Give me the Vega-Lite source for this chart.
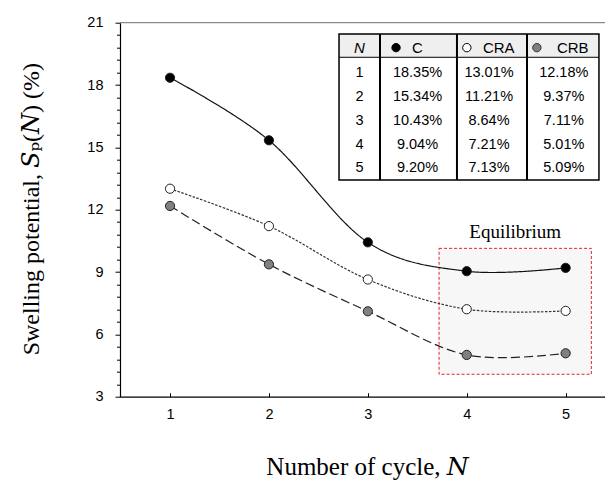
{
  "$schema": "https://vega.github.io/schema/vega-lite/v6.json",
  "width": 485,
  "height": 374,
  "autosize": {"type": "none"},
  "padding": {"left": 120, "top": 22.7, "right": 0, "bottom": 84.3},
  "background": "white",
  "config": {"view": {"stroke": null}, "text": {"font": "Liberation Sans", "color": "#000"}},
  "data": {
    "values": [
      {"N": 1, "series": "C", "value": 18.35},
      {"N": 2, "series": "C", "value": 15.34},
      {"N": 3, "series": "C", "value": 10.43},
      {"N": 4, "series": "C", "value": 9.04},
      {"N": 5, "series": "C", "value": 9.20},
      {"N": 1, "series": "CRA", "value": 13.01},
      {"N": 2, "series": "CRA", "value": 11.21},
      {"N": 3, "series": "CRA", "value": 8.64},
      {"N": 4, "series": "CRA", "value": 7.21},
      {"N": 5, "series": "CRA", "value": 7.13},
      {"N": 1, "series": "CRB", "value": 12.18},
      {"N": 2, "series": "CRB", "value": 9.37},
      {"N": 3, "series": "CRB", "value": 7.11},
      {"N": 4, "series": "CRB", "value": 5.01},
      {"N": 5, "series": "CRB", "value": 5.09}
    ]
  },
  "layer": [
    {
      "layer": [
        {
          "data": {"values": [{}]},
          "mark": {"type": "rect", "fill": "#f7f7f7", "stroke": "#e0262b", "strokeDash": [3, 2], "strokeWidth": 1},
          "encoding": {
            "x": {"datum": 3.72, "type": "quantitative"},
            "x2": {"datum": 5.26},
            "y": {"datum": 4.08, "type": "quantitative"},
            "y2": {"datum": 10.14}
          }
        },
        {
          "data": {"values": [{}]},
          "mark": {"type": "text", "text": "Equilibrium", "font": "Liberation Serif", "fontSize": 19, "color": "#000"},
          "encoding": {
            "x": {"datum": 4.49, "type": "quantitative"},
            "y": {"datum": 10.94, "type": "quantitative"}
          }
        },
        {
          "data": {"values": [{}]},
          "mark": {"type": "rule", "color": "#8a8a8a", "strokeWidth": 1.2},
          "encoding": {"y": {"datum": 21, "type": "quantitative"}}
        },
        {
          "mark": {"type": "line", "interpolate": "cardinal", "strokeWidth": 1.2},
          "encoding": {
            "x": {
              "field": "N",
              "type": "quantitative",
              "scale": {"domain": [0.494, 5.398], "nice": false, "zero": false},
              "axis": {
                "values": [1, 2, 3, 4, 5],
                "tickCount": 10,
                "format": "d",
                "grid": false,
                "title": "Number of cycle, 𝑁",
                "titleFont": "Liberation Serif, DejaVu Serif",
                "titleFontSize": 25,
                "titleFontWeight": "normal",
                "titleColor": "#000",
                "titleX": 247,
                "titleY": 78,
                "titleAlign": "center",
                "titleBaseline": "alphabetic",
                "labelFont": "Liberation Sans",
                "labelFontSize": 14.5,
                "labelColor": "#000",
                "labelPadding": 15,
                "domainColor": "#000",
                "domainWidth": 1.2,
                "tickColor": "#000",
                "tickSize": -4,
                "tickWidth": 1
              }
            },
            "y": {
              "field": "value",
              "type": "quantitative",
              "scale": {"domain": [3, 21], "nice": false, "zero": false},
              "axis": {
                "values": [3, 3.6, 4.2, 4.8, 5.4, 6, 6.6, 7.2, 7.8, 8.4, 9, 9.6, 10.2, 10.8, 11.4, 12, 12.6, 13.2, 13.8, 14.4, 15, 15.6, 16.2, 16.8, 17.4, 18, 18.6, 19.2, 19.8, 20.4, 21],
                "tickCount": 60,
                "labelExpr": "datum.value % 3 == 0 ? format(datum.value, 'd') : ''",
                "labelOverlap": false,
                "grid": false,
                "title": "Swelling potential, 𝑆ₚ(𝑁) (%)",
                "titleFont": "Liberation Serif, DejaVu Serif",
                "titleFontSize": 24,
                "titleFontWeight": "normal",
                "titleColor": "#000",
                "titleAngle": -90,
                "titleX": -82,
                "titleY": 186,
                "titleAlign": "center",
                "titleBaseline": "alphabetic",
                "labelFont": "Liberation Sans",
                "labelFontSize": 14.5,
                "labelColor": "#000",
                "labelPadding": 12,
                "domainColor": "#000",
                "domainWidth": 1.2,
                "tickColor": "#000",
                "tickWidth": 1,
                "tickSize": {"condition": {"test": "datum.value % 3 == 0", "value": 5}, "value": 3.5}
              }
            },
            "color": {"field": "series", "type": "nominal", "scale": {"domain": ["C", "CRA", "CRB"], "range": ["#111111", "#333333", "#222222"]}, "legend": null},
            "strokeDash": {"field": "series", "type": "nominal", "scale": {"domain": ["C", "CRA", "CRB"], "range": [[1, 0], [2.5, 1.5], [9, 4]]}, "legend": null}
          }
        },
        {
          "mark": {"type": "point", "shape": "circle", "filled": true, "size": 85, "stroke": "#222222", "strokeWidth": 1, "opacity": 1},
          "encoding": {
            "x": {"field": "N", "type": "quantitative"},
            "y": {"field": "value", "type": "quantitative"},
            "fill": {"field": "series", "type": "nominal", "scale": {"domain": ["C", "CRA", "CRB"], "range": ["#000000", "#ffffff", "#808080"]}, "legend": null}
          }
        }
      ]
    },
    {
      "layer": [
        {
          "data": {"values": [{}]},
          "mark": {"type": "rect", "fill": "#ffffff"},
          "encoding": {
            "x": {"datum": -0.353, "type": "quantitative", "scale": {"domain": [0, 1, 2, 3], "range": [239.5, 297.5, 369, 443.8], "nice": false, "zero": false}, "axis": null},
            "x2": {"datum": 3.47},
            "y": {"datum": -0.655, "type": "quantitative", "scale": {"domain": [0, 5], "range": [26.85, 145.6], "nice": false, "zero": false}, "axis": null},
            "y2": {"datum": 5.49}
          }
        },
        {
          "data": {"values": [{}]},
          "mark": {"type": "rect", "fill": "#efefef"},
          "encoding": {
            "x": {"datum": -0.353, "type": "quantitative", "axis": null},
            "x2": {"datum": 3.47},
            "y": {"datum": -0.655, "type": "quantitative", "axis": null},
            "y2": {"datum": 0.326}
          }
        },
        {
          "data": {"values": [{}]},
          "mark": {"type": "rule", "color": "#000", "strokeWidth": 1},
          "encoding": {
            "x": {"datum": -0.353, "type": "quantitative", "axis": null},
            "x2": {"datum": 3.47},
            "y": {"datum": 0.326, "type": "quantitative", "axis": null}
          }
        },
        {
          "data": {"values": [{}]},
          "mark": {"type": "rule", "color": "#000", "strokeWidth": 2},
          "encoding": {
            "x": {"datum": 0.353, "type": "quantitative", "axis": null},
            "y": {"datum": -0.655, "type": "quantitative", "axis": null},
            "y2": {"datum": 5.49}
          }
        },
        {
          "data": {"values": [{}]},
          "mark": {"type": "rule", "color": "#000", "strokeWidth": 2},
          "encoding": {
            "x": {"datum": 1.552, "type": "quantitative", "axis": null},
            "y": {"datum": -0.655, "type": "quantitative", "axis": null},
            "y2": {"datum": 5.49}
          }
        },
        {
          "data": {"values": [{}]},
          "mark": {"type": "rule", "color": "#000", "strokeWidth": 2},
          "encoding": {
            "x": {"datum": 2.508, "type": "quantitative", "axis": null},
            "y": {"datum": -0.655, "type": "quantitative", "axis": null},
            "y2": {"datum": 5.49}
          }
        },
        {
          "data": {"values": [{}]},
          "mark": {"type": "rect", "fill": null, "fillOpacity": 0, "stroke": "#000", "strokeWidth": 1.5},
          "encoding": {
            "x": {"datum": -0.353, "type": "quantitative", "axis": null},
            "x2": {"datum": 3.47},
            "y": {"datum": -0.655, "type": "quantitative", "axis": null},
            "y2": {"datum": 5.49}
          }
        },
        {
          "data": {"values": [{}]},
          "mark": {"type": "text", "text": "N", "fontStyle": "italic", "fontSize": 15},
          "encoding": {
            "x": {"datum": 0, "type": "quantitative", "axis": null},
            "y": {"datum": -0.08, "type": "quantitative", "axis": null}
          }
        },
        {
          "data": {"values": [{}]},
          "mark": {"type": "text", "text": "C", "fontSize": 15},
          "encoding": {
            "x": {"datum": 1.0, "type": "quantitative", "axis": null},
            "y": {"datum": -0.08, "type": "quantitative", "axis": null}
          }
        },
        {
          "data": {"values": [{}]},
          "mark": {"type": "text", "text": "CRA", "fontSize": 15},
          "encoding": {
            "x": {"datum": 2.13, "type": "quantitative", "axis": null},
            "y": {"datum": -0.08, "type": "quantitative", "axis": null}
          }
        },
        {
          "data": {"values": [{}]},
          "mark": {"type": "text", "text": "CRB", "fontSize": 15},
          "encoding": {
            "x": {"datum": 3.12, "type": "quantitative", "axis": null},
            "y": {"datum": -0.08, "type": "quantitative", "axis": null}
          }
        },
        {
          "data": {"values": [{}]},
          "mark": {"type": "point", "shape": "circle", "filled": true, "size": 70, "fill": "#000", "stroke": "#000", "strokeWidth": 1, "opacity": 1},
          "encoding": {
            "x": {"datum": 0.63, "type": "quantitative", "axis": null},
            "y": {"datum": -0.08, "type": "quantitative", "axis": null}
          }
        },
        {
          "data": {"values": [{}]},
          "mark": {"type": "point", "shape": "circle", "filled": true, "size": 70, "fill": "#fff", "stroke": "#000", "strokeWidth": 1, "opacity": 1},
          "encoding": {
            "x": {"datum": 1.69, "type": "quantitative", "axis": null},
            "y": {"datum": -0.08, "type": "quantitative", "axis": null}
          }
        },
        {
          "data": {"values": [{}]},
          "mark": {"type": "point", "shape": "circle", "filled": true, "size": 70, "fill": "#808080", "stroke": "#333", "strokeWidth": 1, "opacity": 1},
          "encoding": {
            "x": {"datum": 2.64, "type": "quantitative", "axis": null},
            "y": {"datum": -0.08, "type": "quantitative", "axis": null}
          }
        },
        {
          "transform": [{"filter": "datum.series == 'C'"}],
          "mark": {"type": "text", "fontSize": 14.5},
          "encoding": {
            "x": {"datum": 0, "type": "quantitative", "axis": null},
            "y": {"field": "N", "type": "quantitative", "axis": null},
            "text": {"field": "N", "type": "quantitative", "format": "d"}
          }
        },
        {
          "transform": [
            {"calculate": "format(datum.value, '.2f') + '%'", "as": "label"},
            {"calculate": "indexof(['C', 'CRA', 'CRB'], datum.series) + 1", "as": "col"}
          ],
          "mark": {"type": "text", "fontSize": 14.5},
          "encoding": {
            "x": {"field": "col", "type": "quantitative", "axis": null},
            "y": {"field": "N", "type": "quantitative", "axis": null},
            "text": {"field": "label", "type": "nominal"}
          }
        }
      ]
    }
  ],
  "resolve": {"scale": {"x": "independent", "y": "independent"}}
}
